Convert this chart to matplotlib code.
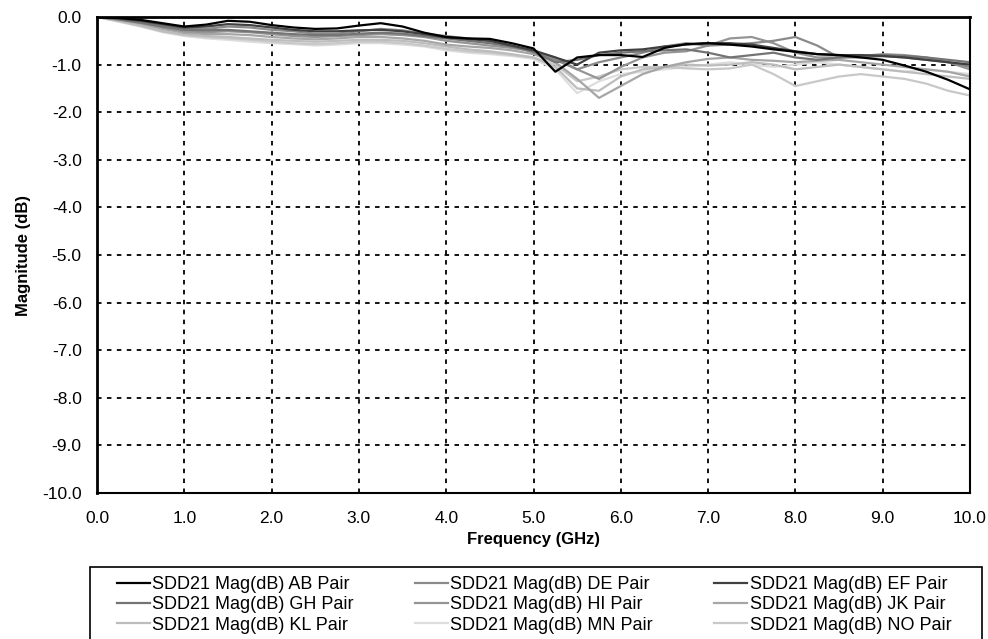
import matplotlib
matplotlib.use("Agg")
import matplotlib.pyplot as plt
from matplotlib.patches import Rectangle
import numpy as np

plt.rcParams['font.family'] = ['Liberation Sans', 'DejaVu Sans']

# frequency points (GHz)
freq = np.arange(0, 10.01, 0.25)

labels = ["SDD21 Mag(dB) AB Pair", "SDD21 Mag(dB) DE Pair", "SDD21 Mag(dB) EF Pair",
          "SDD21 Mag(dB) GH Pair", "SDD21 Mag(dB) HI Pair", "SDD21 Mag(dB) JK Pair",
          "SDD21 Mag(dB) KL Pair", "SDD21 Mag(dB) MN Pair", "SDD21 Mag(dB) NO Pair"]
colors = ["#000000", "#8a8a8a", "#404040",
          "#747474", "#959595", "#a6a6a6",
          "#bdbdbd", "#dedede", "#c8c8c8"]

ab = [0, -0.02, -0.06, -0.13, -0.2, -0.16, -0.08, -0.1, -0.17, -0.22, -0.25, -0.24, -0.18, -0.13,
      -0.2, -0.33, -0.42, -0.45, -0.46, -0.55, -0.66, -1.15, -0.85, -0.8, -0.8, -0.84, -0.65, -0.57,
      -0.55, -0.58, -0.62, -0.68, -0.73, -0.78, -0.8, -0.85, -0.9, -1.02, -1.15, -1.32, -1.52]
de = [0, -0.04, -0.1, -0.18, -0.25, -0.25, -0.2, -0.22, -0.27, -0.3, -0.35, -0.35, -0.3, -0.25,
      -0.28, -0.35, -0.4, -0.45, -0.5, -0.6, -0.75, -0.9, -1.1, -0.95, -0.85, -0.75, -0.62, -0.55,
      -0.6, -0.58, -0.55, -0.5, -0.42, -0.6, -0.85, -0.85, -0.82, -0.85, -0.9, -0.95, -1.05]
ef = [0, -0.03, -0.08, -0.15, -0.22, -0.2, -0.15, -0.17, -0.22, -0.27, -0.3, -0.3, -0.28, -0.27,
      -0.3, -0.36, -0.43, -0.46, -0.5, -0.6, -0.7, -0.85, -1.0, -0.75, -0.7, -0.68, -0.62, -0.58,
      -0.55, -0.55, -0.58, -0.65, -0.72, -0.78, -0.8, -0.8, -0.82, -0.85, -0.9, -0.95, -1.0]
gh = [0, -0.05, -0.12, -0.2, -0.27, -0.28, -0.27, -0.3, -0.33, -0.36, -0.38, -0.38, -0.35, -0.33,
      -0.35, -0.4, -0.45, -0.5, -0.55, -0.62, -0.72, -0.95, -0.9, -0.8, -0.75, -0.72, -0.7, -0.68,
      -0.75, -0.85, -0.8, -0.75, -0.85, -0.9, -0.85, -0.82, -0.8, -0.82, -0.85, -0.9, -0.95]
hi = [0, -0.05, -0.12, -0.22, -0.3, -0.32, -0.3, -0.32, -0.36, -0.4, -0.42, -0.4, -0.38, -0.36,
      -0.38, -0.42, -0.5, -0.55, -0.6, -0.65, -0.72, -0.85, -1.1, -1.3, -1.05, -0.85, -0.75, -0.72,
      -0.6, -0.45, -0.42, -0.55, -0.75, -0.85, -0.85, -0.82, -0.78, -0.8, -0.85, -0.95, -1.1]
jk = [0, -0.06, -0.14, -0.25, -0.33, -0.36, -0.36, -0.38, -0.42, -0.45, -0.47, -0.45, -0.42, -0.42,
      -0.45, -0.5, -0.58, -0.62, -0.65, -0.7, -0.78, -0.95, -1.3, -1.7, -1.45, -1.2, -1.05, -0.95,
      -0.88, -0.85, -0.9, -0.92, -0.95, -0.92, -0.9, -0.95, -1.0, -1.05, -1.1, -1.15, -1.25]
kl = [0, -0.08, -0.18, -0.3, -0.37, -0.4, -0.42, -0.45, -0.48, -0.5, -0.52, -0.5, -0.48, -0.48,
      -0.5, -0.55, -0.62, -0.68, -0.72, -0.78, -0.85, -1.05, -1.5, -1.55, -1.25, -1.1, -1.05, -1.0,
      -1.02, -1.0, -0.95, -1.0, -1.1, -1.05, -1.0, -1.05, -1.1, -1.15, -1.2, -1.25, -1.3]
mn = [0, -0.1, -0.2, -0.32, -0.4, -0.45, -0.48, -0.52, -0.55, -0.57, -0.6, -0.58, -0.55, -0.55,
      -0.58, -0.62, -0.7, -0.75, -0.78, -0.82, -0.88, -1.1, -1.6, -1.35, -1.2, -1.15, -1.1, -1.05,
      -1.0, -0.95, -1.0, -1.05, -1.0, -0.95, -1.0, -1.05, -1.1, -1.15, -1.1, -1.15, -1.2]
no = [0, -0.09, -0.19, -0.3, -0.38, -0.42, -0.45, -0.48, -0.52, -0.55, -0.57, -0.55, -0.52, -0.52,
      -0.55, -0.6, -0.67, -0.72, -0.75, -0.8, -0.85, -1.0, -1.35, -1.25, -1.1, -1.05, -1.05, -1.08,
      -1.1, -1.08, -1.0, -1.2, -1.45, -1.35, -1.25, -1.2, -1.25, -1.3, -1.4, -1.55, -1.65]

series = [ab, de, ef, gh, hi, jk, kl, mn, no]

fig = plt.figure(figsize=(9.88, 6.39), dpi=100)
ax = fig.add_axes([97 / 988, 1 - 493 / 639, 873 / 988, 476 / 639])

# draw light ones first so dark curves sit on top
order = [7, 8, 6, 5, 4, 1, 3, 2, 0]
lines = {}
for i in order:
    ln, = ax.plot(freq, series[i], color=colors[i], lw=1.6, label=labels[i])
    lines[i] = ln

ax.set_xlim(0, 10)
ax.set_ylim(-10, 0)
ax.set_xticks(np.arange(0, 11, 1))
ax.set_yticks(np.arange(-10, 1, 1))
ax.set_xticklabels(["%.1f" % v for v in np.arange(0, 11, 1)], fontsize=12.5)
ax.set_yticklabels(["%.1f" % v for v in np.arange(-10, 1, 1)], fontsize=12.5)
ax.tick_params(axis="x", length=0, pad=13)
ax.tick_params(axis="y", length=0, pad=11)
ax.grid(True, color="black", linestyle=(0, (2.5, 3)), lw=1.3)
ax.set_axisbelow(True)
for side in ["left", "top"]:
    ax.spines[side].set_linewidth(2)
for side in ["right", "bottom"]:
    ax.spines[side].set_linewidth(1.5)

ax.set_xlabel("Frequency (GHz)", fontsize=12, fontweight="bold", labelpad=4)
ax.set_ylabel("Magnitude (dB)", fontsize=12, fontweight="bold", labelpad=8)

# legend rows read AB DE EF / GH HI JK / KL MN NO (matplotlib fills by column)
leg_order = [0, 3, 6, 1, 4, 7, 2, 5, 8]
leg = fig.legend([lines[i] for i in leg_order], [labels[i] for i in leg_order], ncol=3,
                 loc="upper left", bbox_to_anchor=(117 / 988, 1 - 576 / 639),
                 frameon=False, fontsize=13, handlelength=1.8, handletextpad=0.15,
                 columnspacing=3.4, labelspacing=0.18, borderpad=0, borderaxespad=0)
fig.add_artist(Rectangle((90 / 988, -0.02), 892 / 988, 1 - 567 / 639 + 0.02,
                         transform=fig.transFigure, fill=False, edgecolor="black", lw=1.2))

fig.savefig("out.png", dpi=100)
